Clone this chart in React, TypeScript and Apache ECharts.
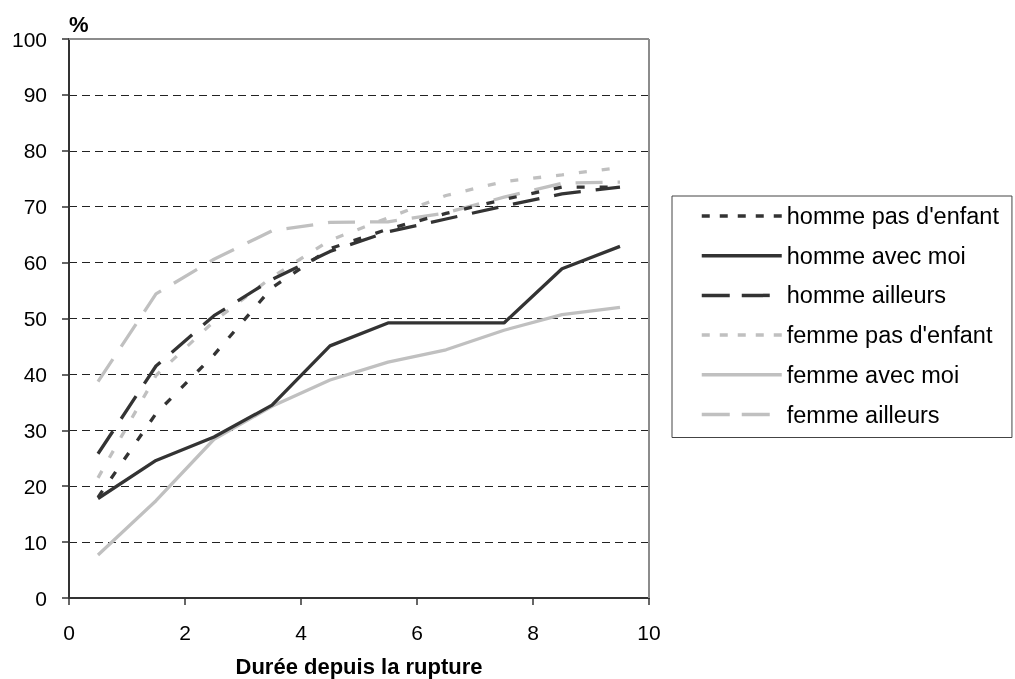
import React, { useEffect, useRef } from "react";
import * as echarts from "echarts";

const xValues = [0.5, 1.5, 2.5, 3.5, 4.5, 5.5, 6.5, 7.5, 8.5, 9.5];
const seriesNames = [
  "homme pas d'enfant",
  "homme avec moi",
  "homme ailleurs",
  "femme pas d'enfant",
  "femme avec moi",
  "femme ailleurs",
];
const hommePasEnfant = [18, 33, 43.5, 55.5, 62.5, 66, 68.8, 71.3, 73.5, 73.5];
const hommeAvecMoi = [17.8, 24.6, 28.8, 34.5, 45.1, 49.2, 49.2, 49.2, 58.9, 62.9];
const hommeAilleurs = [25.8, 41.5, 50.5, 57, 62, 65.5, 67.8, 70.1, 72.3, 73.5];
const femmePasEnfant = [21.5, 39.8, 49.5, 57.4, 64, 68, 72, 74.5, 75.7, 77];
const femmeAvecMoi = [7.7, 17.4, 28.4, 34.3, 39, 42.2, 44.4, 47.9, 50.7, 52];
const femmeAilleurs = [38.7, 54.4, 60.6, 65.7, 67.2, 67.3, 68.9, 71.7, 74.2, 74.4];
const yTicks = { min: 0, max: 100, interval: 10 };
const xTicks = { min: 0, max: 10, interval: 2 };
const xTitle = "Durée depuis la rupture";
const yTitle = "%";

const DARK = "#333333";
const LIGHT = "#c0c0c0";
const SHORT = [8, 15];
const LONG = [27, 15];
const SHORT_LEG = [8, 10];
const LONG_LEG = [28, 12];
const FONT = "'Liberation Sans', Arial, sans-serif";

const G = { left: 69, top: 39, right: 366, bottom: 81 };

export default function App() {
  const ref = useRef<HTMLDivElement>(null);
  useEffect(() => {
    if (!ref.current) return;
    const chart = echarts.init(ref.current, undefined, { renderer: "svg" });
    const allData = [hommePasEnfant, hommeAvecMoi, hommeAilleurs, femmePasEnfant, femmeAvecMoi, femmeAilleurs];
    const colors = [DARK, DARK, DARK, LIGHT, LIGHT, LIGHT];
    const dashes: any[] = [SHORT, "solid", LONG, SHORT, "solid", LONG];
    const legDashes: any[] = [SHORT_LEG, "solid", LONG_LEG, SHORT_LEG, "solid", LONG_LEG];
    const W = 1015, H = 679;
    const gx1 = G.left, gx2 = W - G.right, gy1 = G.top, gy2 = H - G.bottom;
    chart.setOption({
      animation: false,
      textStyle: { fontFamily: FONT, color: "#000" },
      grid: {
        left: G.left,
        top: G.top,
        right: G.right,
        bottom: G.bottom,
        containLabel: false,
        outerBoundsMode: "none",
      },
      xAxis: {
        type: "value",
        min: xTicks.min,
        max: xTicks.max,
        interval: xTicks.interval,
        name: xTitle,
        nameLocation: "middle",
        nameGap: 57,
        nameTextStyle: { fontSize: 22, fontWeight: "bold", color: "#000", fontFamily: FONT },
        axisLine: { lineStyle: { color: DARK, width: 2 } },
        axisTick: { show: true, inside: false, length: 7, lineStyle: { color: DARK, width: 1.5 } },
        axisLabel: { fontSize: 21, color: "#000", margin: 24, fontFamily: FONT },
        splitLine: { show: false },
      },
      yAxis: {
        type: "value",
        min: yTicks.min,
        max: yTicks.max,
        interval: yTicks.interval,
        name: yTitle,
        nameLocation: "end",
        nameGap: 4,
        nameTextStyle: { fontSize: 22, fontWeight: "bold", color: "#000", align: "left", fontFamily: FONT },
        axisLine: { show: true, lineStyle: { color: DARK, width: 2 } },
        axisTick: { show: true, inside: false, length: 7, lineStyle: { color: DARK, width: 1.5 } },
        axisLabel: { fontSize: 21, color: "#000", margin: 22, fontFamily: FONT },
        splitLine: { show: true, lineStyle: { color: "#222", width: 1, type: [8, 5] } },
      },
      legend: {
        orient: "vertical",
        left: 672,
        top: 196,
        padding: [8, 13, 11, 28],
        itemWidth: 80,
        itemHeight: 14,
        itemGap: 15.7,
        borderColor: "#444",
        borderWidth: 1,
        backgroundColor: "#fff",
        itemStyle: { opacity: 0, borderWidth: 0 },
        textStyle: { fontSize: 23.5, lineHeight: 24, color: "#000", fontFamily: FONT },
        data: seriesNames.map((n, i) => ({ name: n, lineStyle: { type: legDashes[i], width: 3.5 } })),
      },
      graphic: [
        { type: "line", z: 100, shape: { x1: gx1, y1: gy1, x2: gx2, y2: gy1 }, style: { stroke: "#8c8c8c", lineWidth: 2 } },
        { type: "line", z: 100, shape: { x1: gx2, y1: gy1, x2: gx2, y2: gy2 }, style: { stroke: "#8c8c8c", lineWidth: 2 } },
      ],
      series: seriesNames.map((n, i) => ({
        name: n,
        type: "line",
        symbol: "none",
        showSymbol: false,
        data: xValues.map((x, j) => [x, allData[i][j]]),
        itemStyle: { color: colors[i] },
        lineStyle: { color: colors[i], width: 3.3, type: dashes[i] },
        z: 10 - i,
      })),
    });
    return () => chart.dispose();
  }, []);
  return <div ref={ref} style={{ position: "fixed", left: 0, top: 0, width: 1015, height: 679 }} />;
}
